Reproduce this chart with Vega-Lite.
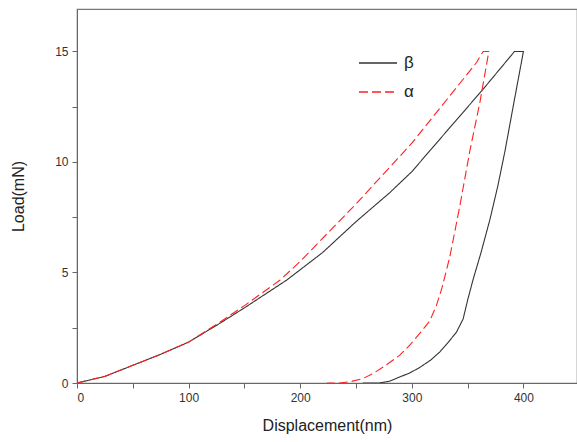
{
  "$schema": "https://vega.github.io/schema/vega-lite/v6.json",
  "width": 500,
  "height": 374,
  "autosize": "none",
  "padding": {"left": 77, "top": 9, "right": 0, "bottom": 59},
  "background": "white",
  "config": {
    "font": "Liberation Sans",
    "view": {"stroke": "#777", "strokeWidth": 1.2}
  },
  "data": {
    "values": [
      {"s": "β", "i": 1, "x": 0, "y": 0},
      {"s": "β", "i": 2, "x": 25, "y": 0.3},
      {"s": "β", "i": 3, "x": 50, "y": 0.8},
      {"s": "β", "i": 4, "x": 75, "y": 1.3},
      {"s": "β", "i": 5, "x": 100, "y": 1.85},
      {"s": "β", "i": 6, "x": 128, "y": 2.7},
      {"s": "β", "i": 7, "x": 150, "y": 3.4},
      {"s": "β", "i": 8, "x": 188, "y": 4.66},
      {"s": "β", "i": 9, "x": 220, "y": 5.9},
      {"s": "β", "i": 10, "x": 250, "y": 7.3},
      {"s": "β", "i": 11, "x": 280, "y": 8.6},
      {"s": "β", "i": 12, "x": 300, "y": 9.56},
      {"s": "β", "i": 13, "x": 316, "y": 10.5},
      {"s": "β", "i": 14, "x": 364, "y": 13.3},
      {"s": "β", "i": 15, "x": 392, "y": 15},
      {"s": "β", "i": 16, "x": 400, "y": 15},
      {"s": "β", "i": 17, "x": 391.5, "y": 12.7},
      {"s": "β", "i": 18, "x": 383.5, "y": 10.5},
      {"s": "β", "i": 19, "x": 377, "y": 8.9},
      {"s": "β", "i": 20, "x": 370, "y": 7.4},
      {"s": "β", "i": 21, "x": 362, "y": 5.9},
      {"s": "β", "i": 22, "x": 355, "y": 4.7},
      {"s": "β", "i": 23, "x": 350, "y": 3.75},
      {"s": "β", "i": 24, "x": 346, "y": 2.9},
      {"s": "β", "i": 25, "x": 340, "y": 2.3},
      {"s": "β", "i": 26, "x": 332, "y": 1.8},
      {"s": "β", "i": 27, "x": 325, "y": 1.4},
      {"s": "β", "i": 28, "x": 317, "y": 1.04},
      {"s": "β", "i": 29, "x": 307, "y": 0.7},
      {"s": "β", "i": 30, "x": 298, "y": 0.45},
      {"s": "β", "i": 31, "x": 289, "y": 0.27},
      {"s": "β", "i": 32, "x": 280, "y": 0.08},
      {"s": "β", "i": 33, "x": 271, "y": 0},
      {"s": "β", "i": 34, "x": 256, "y": 0},
      {"s": "α", "i": 1, "x": 0, "y": 0},
      {"s": "α", "i": 2, "x": 25, "y": 0.3},
      {"s": "α", "i": 3, "x": 50, "y": 0.8},
      {"s": "α", "i": 4, "x": 75, "y": 1.3},
      {"s": "α", "i": 5, "x": 100, "y": 1.85},
      {"s": "α", "i": 6, "x": 128, "y": 2.75},
      {"s": "α", "i": 7, "x": 150, "y": 3.5},
      {"s": "α", "i": 8, "x": 182, "y": 4.66},
      {"s": "α", "i": 9, "x": 200, "y": 5.5},
      {"s": "α", "i": 10, "x": 250, "y": 8.1},
      {"s": "α", "i": 11, "x": 300, "y": 10.85},
      {"s": "α", "i": 12, "x": 358, "y": 14.5},
      {"s": "α", "i": 13, "x": 362, "y": 14.85},
      {"s": "α", "i": 14, "x": 364, "y": 15},
      {"s": "α", "i": 15, "x": 369, "y": 15},
      {"s": "α", "i": 16, "x": 361, "y": 12.7},
      {"s": "α", "i": 17, "x": 352, "y": 10.5},
      {"s": "α", "i": 18, "x": 343, "y": 8},
      {"s": "α", "i": 19, "x": 334, "y": 5.7},
      {"s": "α", "i": 20, "x": 327, "y": 4.3},
      {"s": "α", "i": 21, "x": 322, "y": 3.5},
      {"s": "α", "i": 22, "x": 316, "y": 2.8},
      {"s": "α", "i": 23, "x": 308, "y": 2.3},
      {"s": "α", "i": 24, "x": 298, "y": 1.7},
      {"s": "α", "i": 25, "x": 289, "y": 1.25},
      {"s": "α", "i": 26, "x": 278, "y": 0.85},
      {"s": "α", "i": 27, "x": 266, "y": 0.45},
      {"s": "α", "i": 28, "x": 256, "y": 0.2},
      {"s": "α", "i": 29, "x": 245, "y": 0.06},
      {"s": "α", "i": 30, "x": 235, "y": 0},
      {"s": "α", "i": 31, "x": 224, "y": 0}
    ]
  },
  "mark": {"type": "line", "strokeWidth": 1.1, "clip": true},
  "encoding": {
    "x": {
      "field": "x",
      "type": "quantitative",
      "scale": {"domain": [0, 448], "nice": false, "zero": false},
      "axis": {
        "title": "Displacement(nm)",
        "values": [0, 50, 100, 150, 200, 250, 300, 350, 400],
        "labelExpr": "datum.value % 100 == 0 ? datum.label : ''",
        "grid": false,
        "domainColor": "#666",
        "tickColor": "#666",
        "tickSize": 5,
        "labelFontSize": 12,
        "labelColor": "#333",
        "labelPadding": 4,
        "titleFontSize": 16,
        "titleFontWeight": "normal",
        "titleColor": "#222",
        "titlePadding": 14
      }
    },
    "y": {
      "field": "y",
      "type": "quantitative",
      "scale": {"domain": [0, 16.92], "nice": false, "zero": false},
      "axis": {
        "title": "Load(mN)",
        "values": [0, 2.5, 5, 7.5, 10, 12.5, 15],
        "labelExpr": "datum.value % 5 == 0 ? datum.label : ''",
        "grid": false,
        "domainColor": "#666",
        "tickColor": "#666",
        "tickSize": 5,
        "labelFontSize": 12,
        "labelColor": "#333",
        "labelPadding": 4,
        "titleFontSize": 16,
        "titleFontWeight": "normal",
        "titleColor": "#222",
        "titlePadding": 28
      }
    },
    "order": {"field": "i", "type": "quantitative"},
    "color": {
      "field": "s",
      "type": "nominal",
      "scale": {"domain": ["β", "α"], "range": ["#333333", "#ff2020"]},
      "legend": {
        "title": null,
        "orient": "none",
        "legendX": 281,
        "legendY": 34,
        "symbolType": "stroke",
        "symbolSize": 1444,
        "symbolStrokeWidth": 1.3,
        "labelFontSize": 17,
        "labelColor": "#222",
        "rowPadding": 1,
        "labelOffset": 6
      }
    },
    "strokeDash": {
      "field": "s",
      "type": "nominal",
      "scale": {"domain": ["β", "α"], "range": [[1, 0], [9, 4]]},
      "legend": {
        "title": null,
        "orient": "none",
        "legendX": 281,
        "legendY": 34,
        "symbolType": "stroke",
        "symbolSize": 1444,
        "symbolStrokeWidth": 1.3,
        "labelFontSize": 17,
        "labelColor": "#222",
        "rowPadding": 1,
        "labelOffset": 6
      }
    }
  }
}
